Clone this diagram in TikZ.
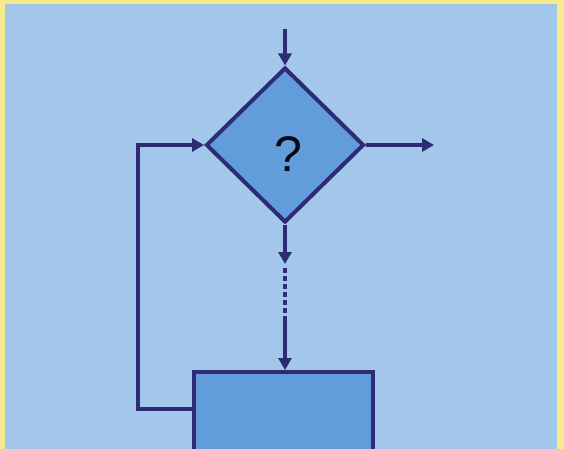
\documentclass[tikz,border=0pt]{standalone}
\usepackage{fontspec}
\setmainfont{Liberation Sans}
\usetikzlibrary{shapes.geometric,arrows.meta}
\definecolor{frameyellow}{HTML}{F6EA8E}
\definecolor{paneblue}{HTML}{A3C7EA}
\definecolor{shapeblue}{HTML}{639CDB}
\definecolor{inkblue}{HTML}{2C2B73}
\tikzset{
  flowline/.style={draw=inkblue, line width=4pt},
  flowarrow/.style={flowline, -{Triangle[length=12pt,width=13pt]}},
  shapebox/.style={draw=inkblue, line width=4pt, fill=shapeblue, inner sep=0pt}
}
\begin{document}
\begin{tikzpicture}[x=1pt,y=-1pt]
  % page and frame
  \useasboundingbox (0,0) rectangle (564,449);
  \fill[frameyellow] (0,0) rectangle (564,449);
  \fill[paneblue] (5,4) rectangle (557,449);
  \clip (0,0) rectangle (564,449);

  % decision diamond
  \node[shapebox, diamond, minimum width=158pt, minimum height=155pt] (dec) at (285,145) {};
  \node[text=black!85!inkblue, font=\fontsize{50}{50}\selectfont] (q) at (288,154) {?};

  % process box (runs off the lower edge)
  \node[shapebox, rectangle, anchor=north west, minimum width=179pt, minimum height=110pt] (proc) at (192,370) {};

  % helper points
  \coordinate (top) at (285,29);
  \coordinate (out) at (434,145);
  \coordinate (s1) at (285,264);
  \coordinate (d1) at (285,268);
  \coordinate (d2) at (285,320);
  \coordinate (back) at (192,409);
  \coordinate (c1) at (138,409);
  \coordinate (c2) at (138,145);

  % connectors
  \draw[flowarrow] (top) -- (dec.north);
  \draw[flowarrow] (dec.east) -- (out);
  \draw[flowarrow] (dec.south) -- (s1);
  \draw[flowline, dash pattern=on 5pt off 3pt] (d1) -- (d2);
  \draw[flowarrow] (d2) -- (proc.north -| d2);
  \draw[flowarrow] (back) -- (c1) -- (c2) -- (dec.west);
\end{tikzpicture}
\end{document}
